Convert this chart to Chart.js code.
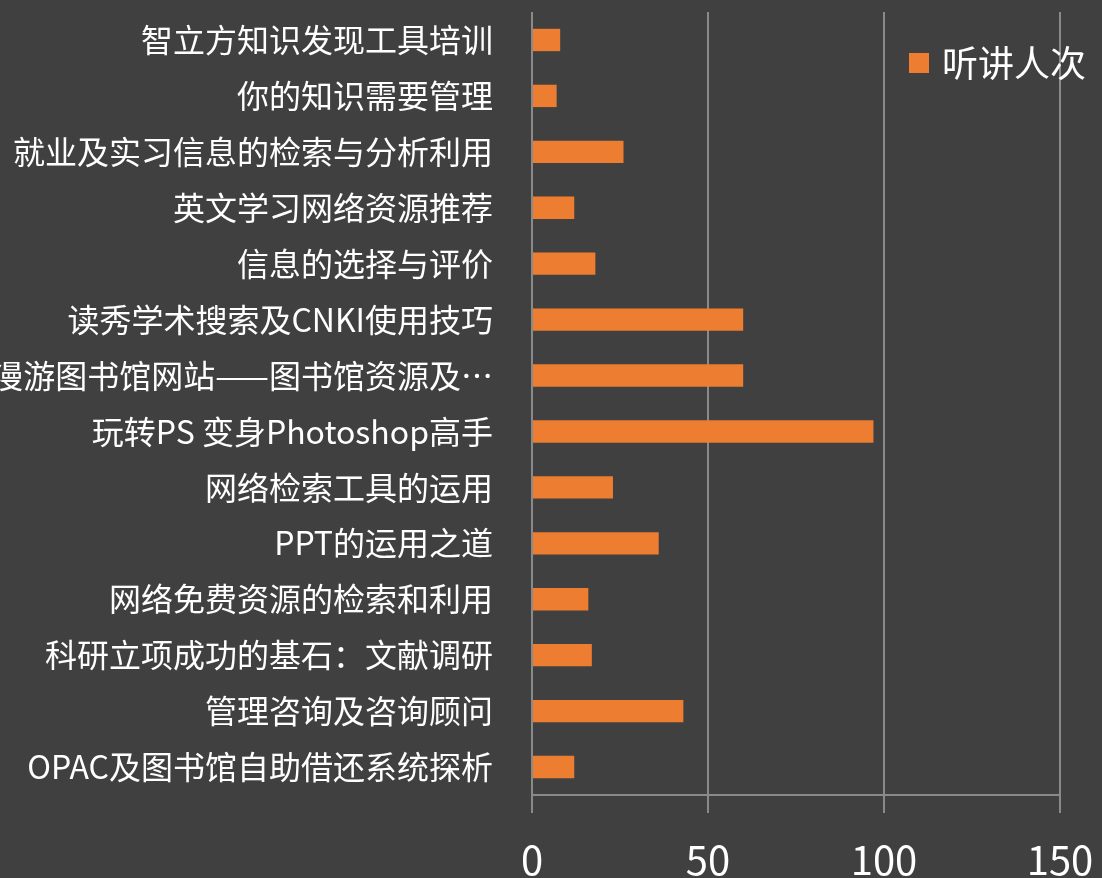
<!DOCTYPE html>
<html lang="zh">
<head>
    <meta charset="UTF-8">
    <title>听讲人次</title>
    <script src="https://cdn.jsdelivr.net/npm/chart.js"></script>
    <style>
        html, body { margin: 0; padding: 0; background: #404040; }
        .chart-box { width: 1102px; height: 878px; }
    </style>
</head>
<body>
    <div class="chart-box">
        <canvas id="lectureChart"></canvas>
    </div>

    <script>
        const categories = [
            '智立方知识发现工具培训',
            '你的知识需要管理',
            '就业及实习信息的检索与分析利用',
            '英文学习网络资源推荐',
            '信息的选择与评价',
            '读秀学术搜索及CNKI使用技巧',
            '漫游图书馆网站——图书馆资源及…',
            '玩转PS 变身Photoshop高手',
            '网络检索工具的运用',
            'PPT的运用之道',
            '网络免费资源的检索和利用',
            '科研立项成功的基石：文献调研',
            '管理咨询及咨询顾问',
            'OPAC及图书馆自助借还系统探析'
        ];
        const attendance = [8, 7, 26, 12, 18, 60, 60, 97, 23, 36, 16, 17, 43, 12];
        const seriesName = '听讲人次';
        const xTicks = [0, 50, 100, 150];

        const fontFamily = '"Noto Sans CJK SC", "Open Sans", sans-serif';
        const gridColor = '#8a8a8a';

        // legend sits inside the plot, top right
        const innerLegend = {
            id: 'innerLegend',
            afterDraw(chart) {
                const ctx = chart.ctx;
                const area = chart.chartArea;
                const ds = chart.data.datasets[0];
                const x = area.right - 151;
                const y = area.top + 51;
                ctx.save();
                ctx.fillStyle = ds.backgroundColor;
                ctx.fillRect(x, y - 10, 20, 20);
                ctx.fillStyle = '#ffffff';
                ctx.font = '36px ' + fontFamily;
                ctx.textBaseline = 'middle';
                ctx.textAlign = 'left';
                ctx.fillText(ds.label, x + 33, y);
                ctx.restore();
            }
        };

        const ctx = document.getElementById('lectureChart').getContext('2d');
        const lectureChart = new Chart(ctx, {
            type: 'bar',
            data: {
                labels: categories,
                datasets: [{
                    label: seriesName,
                    data: attendance,
                    backgroundColor: '#ED7D31',
                    borderWidth: 0,
                    categoryPercentage: 1,
                    barPercentage: 0.4
                }]
            },
            options: {
                indexAxis: 'y',
                responsive: true,
                maintainAspectRatio: false,
                animation: false,
                layout: {
                    padding: { top: 12, right: 42, bottom: 0, left: 0 }
                },
                plugins: {
                    legend: { display: false },
                    tooltip: { enabled: false }
                },
                scales: {
                    x: {
                        min: xTicks[0],
                        max: xTicks[xTicks.length - 1],
                        afterBuildTicks: scale => {
                            scale.ticks = xTicks.map(v => ({ value: v }));
                        },
                        afterFit: scale => {
                            scale.height = 83;
                            scale.paddingLeft = 0;
                            scale.paddingRight = 0;
                        },
                        ticks: {
                            color: '#ffffff',
                            padding: 23,
                            font: { family: fontFamily, size: 40 }
                        },
                        grid: {
                            color: gridColor,
                            lineWidth: 2,
                            tickLength: 18
                        },
                        border: { display: true, color: gridColor, width: 2 }
                    },
                    y: {
                        afterFit: scale => {
                            scale.width = 532;
                            scale.paddingTop = 0;
                            scale.paddingBottom = 0;
                        },
                        ticks: {
                            color: '#ffffff',
                            padding: 39,
                            autoSkip: false,
                            font: { family: fontFamily, size: 32 }
                        },
                        grid: { display: false, drawTicks: false },
                        border: { display: false }
                    }
                }
            },
            plugins: [innerLegend]
        });
    </script>
</body>
</html>
